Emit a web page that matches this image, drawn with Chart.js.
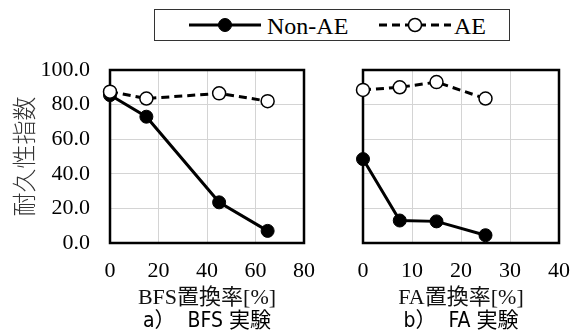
<!DOCTYPE html>
<html>
<head>
<meta charset="utf-8">
<script src="https://cdn.jsdelivr.net/npm/chart.js@4"></script>
<style>
  body { margin: 0; background: #fff; }
  #wrap { position: relative; width: 585px; height: 333px; overflow: hidden; }
  canvas { position: absolute; top: 0; }
  #legend {
    position: absolute; left: 154px; top: 9px; width: 356px; height: 32px;
    box-sizing: border-box; border: 1px solid #333; background: #fff; z-index: 2;
  }
  #legend .item { position: absolute; top: 0; height: 30px; }
  #legend svg { position: absolute; top: 5px; }
  #legend span {
    position: absolute; top: 1px; line-height: 30px; white-space: nowrap;
    font-family: "Liberation Serif", serif; font-size: 24px; color: #000;
  }
</style>
</head>
<body>
<div id="wrap">
  <canvas id="bfsChart" width="330" height="333" style="left:0"></canvas>
  <canvas id="faChart" width="255" height="333" style="left:330px"></canvas>
  <div id="legend"></div>
</div>
<script>
'use strict';

// series labels
const seriesNames = ['Non-AE', 'AE'];

// a) BFS experiment
const bfsX = [0, 15, 45, 65];
const bfsNonAE = [85.5, 73, 23.5, 7];
const bfsAE = [87.5, 83.5, 86.5, 82];

// b) FA experiment
const faX = [0, 7.5, 15, 25];
const faNonAE = [48.5, 13, 12.5, 4.5];
const faAE = [88.5, 90, 93, 83.5];

// axis ticks / titles
const yTicks = [0, 20, 40, 60, 80, 100];
const bfsTicks = [0, 20, 40, 60, 80];
const faTicks = [0, 10, 20, 30, 40];
const yTitle = '耐久性指数';
const bfsTitle = 'BFS置換率[%]';
const faTitle = 'FA置換率[%]';
const bfsCaption = 'a）  BFS 実験';
const faCaption = 'b）  FA 実験';

const serif = '"Liberation Serif", "Noto Sans CJK JP", serif';
Chart.defaults.font.family = serif;

function toPoints(xs, ys) {
  return xs.map((x, i) => ({ x: x, y: ys[i] }));
}

function makeDatasets(xs, nonAE, ae) {
  return [{
    label: seriesNames[0],
    data: toPoints(xs, nonAE),
    borderColor: '#000',
    backgroundColor: '#000',
    borderWidth: 3,
    pointRadius: 6.5,
    pointBorderWidth: 1,
    pointBackgroundColor: '#000',
    tension: 0,
    clip: false,
    order: 1
  }, {
    label: seriesNames[1],
    data: toPoints(xs, ae),
    borderColor: '#000',
    backgroundColor: '#fff',
    borderWidth: 3,
    borderDash: [8, 5],
    pointRadius: 6.5,
    pointBorderWidth: 1.5,
    pointBackgroundColor: '#fff',
    tension: 0,
    clip: false,
    order: 0
  }];
}

// plot frame around the chart area
const framePlugin = {
  id: 'frame',
  beforeDatasetsDraw(chart) {
    const { ctx, chartArea: a } = chart;
    ctx.save();
    ctx.strokeStyle = '#000';
    ctx.lineWidth = 2.5;
    ctx.strokeRect(a.left, a.top, a.right - a.left, a.bottom - a.top);
    ctx.restore();
  }
};

function makeConfig(opts) {
  return {
    type: 'line',
    data: { datasets: makeDatasets(opts.xs, opts.nonAE, opts.ae) },
    plugins: [framePlugin],
    options: {
      responsive: false,
      animation: false,
      devicePixelRatio: 1,
      layout: { padding: { top: 70, right: opts.padRight, left: 0, bottom: 0 } },
      plugins: {
        legend: { display: false },
        tooltip: { enabled: false },
        title: {
          display: true,
          position: 'bottom',
          fullSize: false,
          text: opts.caption,
          color: '#000',
          font: { family: '"DejaVu Sans Condensed", "Noto Sans CJK JP", sans-serif', size: 21, weight: 'normal', lineHeight: 1 },
          padding: { top: 2, bottom: 1 }
        }
      },
      scales: {
        x: {
          type: 'linear',
          min: opts.xTicks[0],
          max: opts.xTicks[opts.xTicks.length - 1],
          afterBuildTicks: s => { s.ticks = opts.xTicks.map(v => ({ value: v })); },
          afterFit: s => { s.height = 66; },
          grid: { color: '#d4d4d4', lineWidth: 1, drawTicks: false },
          border: { display: false },
          ticks: { color: '#000', padding: 15, maxRotation: 0, font: { family: serif, size: 22 } },
          title: {
            display: true, text: opts.xTitle, color: '#111',
            font: { family: serif, size: 22, lineHeight: 1 },
            padding: { top: 0, bottom: 0 }
          }
        },
        y: {
          min: 0,
          max: 100,
          afterBuildTicks: s => { s.ticks = yTicks.map(v => ({ value: v })); },
          afterFit: s => { s.width = opts.yWidth; },
          grid: { color: '#d4d4d4', lineWidth: 1, drawTicks: false },
          border: { display: false },
          ticks: {
            display: opts.showY, color: '#000', padding: 20,
            font: { family: serif, size: 22 },
            callback: v => v.toFixed(1)
          },
          title: {
            display: opts.showY, text: yTitle, color: '#333',
            font: { family: '"Noto Sans CJK JP", sans-serif', size: 24, weight: '300', lineHeight: 1 },
            padding: { top: 12, bottom: 0 }
          }
        }
      }
    }
  };
}

function buildLegend(chart) {
  // shared legend built from the dataset styles
  const legend = document.getElementById('legend');
  const legendPos = [{ sample: 34, text: 112 }, { sample: 224, text: 299 }];
  chart.data.datasets.forEach((ds, i) => {
    const dash = ds.borderDash ? ' stroke-dasharray="' + ds.borderDash.join(' ') + '"' : '';
    const item = document.createElement('div');
    item.className = 'item';
    item.innerHTML =
      '<svg width="72" height="20" style="left:' + legendPos[i].sample + 'px">' +
      '<line x1="0" y1="10" x2="72" y2="10" stroke="' + ds.borderColor + '" stroke-width="' + ds.borderWidth + '"' + dash + '/>' +
      '<circle cx="36" cy="10" r="6.5" fill="' + ds.pointBackgroundColor + '" stroke="#000" stroke-width="' + ds.pointBorderWidth + '"/>' +
      '</svg><span style="left:' + legendPos[i].text + 'px">' + ds.label + '</span>';
    legend.appendChild(item);
  });
}

const bfsChart = new Chart(document.getElementById('bfsChart'), makeConfig({
  xs: bfsX, nonAE: bfsNonAE, ae: bfsAE, xTicks: bfsTicks,
  xTitle: bfsTitle, caption: bfsCaption, padRight: 18, yWidth: 110, showY: true
}));
const faChart = new Chart(document.getElementById('faChart'), makeConfig({
  xs: faX, nonAE: faNonAE, ae: faAE, xTicks: faTicks,
  xTitle: faTitle, caption: faCaption, padRight: 20, yWidth: 33, showY: false
}));
buildLegend(bfsChart);
</script>
</body>
</html>
